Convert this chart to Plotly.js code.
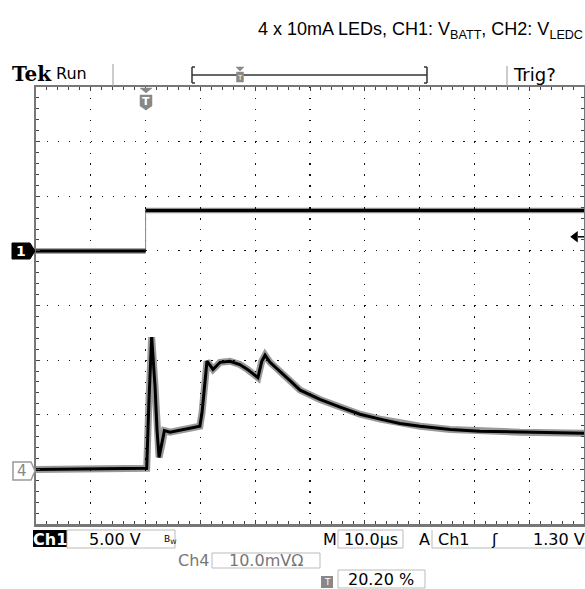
<!DOCTYPE html>
<html><head><meta charset="utf-8">
<script src="https://cdn.plot.ly/plotly-3.0.1.min.js"></script>
<style>body{margin:0;background:#fff}#chart{width:585px;height:589px}</style>
</head><body><div id="chart"></div>
<script>
// ---- data ----
const ch1Time  = [-20, 0, 0, 80];            // µs
const ch1Volts = [0, 0, 3.7, 3.7];           // V
const ch4Time  = [-20, 0.2, 0.62, 1.11, 1.72, 2.08, 2.45, 2.99, 3.43, 4.45, 7.2, 9.9, 10.3, 10.7, 11.2, 12.3, 13.6, 15.4, 17.2, 18.6, 20.5, 21.2, 21.8, 22.7, 24.5, 26.4, 28.2, 31.8, 35.5, 39.1, 42.8, 46.4, 50.1, 55.6, 61.0, 68.3, 80];
const ch4mV    = [0, 0.2, 12.8, 24.2, 15.2, 7.3, 2.2, 4.6, 7.1, 6.8, 7.3, 7.9, 10.4, 15.3, 19.8, 18.3, 19.6, 19.8, 19.2, 18.3, 16.8, 19.8, 20.9, 19.6, 18.0, 16.2, 14.5, 12.8, 11.4, 10.1, 9.2, 8.4, 7.9, 7.3, 7.0, 6.8, 6.6];
const ch1VoltsPerDiv = 5.0;
const ch4mVPerDiv = 10.0;
const ch1OffsetDiv = 1;
const ch4OffsetDiv = -3;
const trigLevelV = 1.30;
const timeRange = [-20, 80];
const timePerDiv = 10;

// ---- helpers ----
const L = 36, W = 548, B = 524, H = 437;
const px = x => (x - L) / W;
const py = y => (B - y) / H;
const ch1Y = ch1Volts.map(v => ch1OffsetDiv + v / ch1VoltsPerDiv);
const ch4Y = ch4mV.map(v => ch4OffsetDiv + v / ch4mVPerDiv);
// horizontal levels of ch1 only (break at the step)
const ch1LevX = [], ch1LevY = [];
for (let i = 0; i < ch1Time.length; i++) {
  if (i > 0 && ch1Time[i] === ch1Time[i - 1]) { ch1LevX.push(null); ch1LevY.push(null); }
  ch1LevX.push(ch1Time[i]); ch1LevY.push(ch1Y[i]);
}

const traces = [
  {x: ch1Time, y: ch1Y, mode: 'lines', line: {color: '#888', width: 1}, hoverinfo: 'skip'},
  {x: ch1LevX, y: ch1LevY, mode: 'lines', line: {color: 'rgba(0,0,0,0.45)', width: 5.5}, connectgaps: false},
  {x: ch1LevX, y: ch1LevY, mode: 'lines', line: {color: '#000', width: 3}, connectgaps: false},
  {x: ch4Time, y: ch4Y, mode: 'lines', line: {color: 'rgba(0,0,0,0.4)', width: 7}},
  {x: ch4Time, y: ch4Y, mode: 'lines', line: {color: '#000', width: 3}},
  {x: [78.4], y: [ch1OffsetDiv + trigLevelV / ch1VoltsPerDiv], mode: 'markers',
   marker: {symbol: 'triangle-left', size: 10, color: '#000'}}
];

const F = 'DejaVu Sans';
function txt(x, y, text, size, opts) {
  return Object.assign({xref: 'paper', yref: 'paper', x: px(x), y: py(y), text: text, showarrow: false,
    xanchor: 'center', yanchor: 'middle', font: {family: F, size: size, color: '#000'}}, opts || {});
}
function line(x0, y0, x1, y1, color, width) {
  return {type: 'line', xref: 'paper', yref: 'paper', x0: px(x0), y0: py(y0), x1: px(x1), y1: py(y1),
    line: {color: color, width: width}};
}
function rect(x0, y0, x1, y1, fill, lc, lw) {
  return {type: 'rect', xref: 'paper', yref: 'paper', x0: px(x0), y0: py(y0), x1: px(x1), y1: py(y1),
    fillcolor: fill, line: {color: lc, width: lw}};
}
function path(pts, fill, lc, lw) {
  const d = pts.map((p, i) => (i ? 'L' : 'M') + px(p[0]) + ',' + py(p[1])).join(' ') + ' Z';
  return {type: 'path', xref: 'paper', yref: 'paper', path: d, fillcolor: fill, line: {color: lc, width: lw}};
}

const shapes = [
  // header
  line(113, 64, 113, 86, '#999', 1),
  line(507, 66, 507, 86, '#999', 1),
  line(192, 75, 427, 75, '#333', 1.5),
  line(192, 67, 192, 83, '#333', 1.5), line(192, 67, 195, 67, '#333', 1.5), line(192, 83, 195, 83, '#333', 1.5),
  line(427, 67, 427, 83, '#333', 1.5), line(427, 67, 424, 67, '#333', 1.5), line(427, 83, 424, 83, '#333', 1.5),
  path([[236, 67], [244, 67], [240, 71]], '#888', '#888', 0.5),
  rect(236.5, 72, 243.5, 82, '#888', '#888', 0.5),
  // trigger position marker in plot
  path([[140, 88], [152, 88], [146, 93]], '#888', '#888', 0.5),
  path([[140, 95], [152, 95], [152, 106], [146, 110], [140, 106]], '#888', '#888', 0.5),
  // channel markers
  path([[12, 243], [30, 243], [35, 251], [30, 259], [12, 259]], '#000', '#000', 1),
  path([[13, 462], [31, 462], [35, 471], [31, 480], [13, 480]], '#fff', '#999', 1.5),
  line(578, 236.8, 584, 236.8, '#000', 1.5),
  // bottom readouts
  rect(33, 530, 67, 547, '#000', '#000', 0),
  rect(67, 530, 175, 548, 'rgba(0,0,0,0)', '#bbb', 1),
  rect(338, 530, 403, 548, 'rgba(0,0,0,0)', '#bbb', 1),
  line(432, 530, 432, 548, '#bbb', 1), line(432, 548, 585, 548, '#bbb', 1),
  rect(212, 553, 320, 568, 'rgba(0,0,0,0)', '#bbb', 1),
  rect(321, 576, 333, 588, '#888', '#888', 0),
  rect(338, 570, 425, 588, 'rgba(0,0,0,0)', '#bbb', 1)
];

const annotations = [
  txt(420, 30, '4 x 10mA LEDs, CH1: V<sub>BATT</sub>, CH2: V<sub>LEDC</sub>', 18, {font: {family: 'Liberation Sans', size: 18, color: '#000'}}),
  txt(10, 74, '<b>Tek</b>', 20, {xanchor: 'left', font: {family: 'DejaVu Serif', size: 20, color: '#000'}}),
  txt(54, 73, 'Run', 16, {xanchor: 'left'}),
  txt(511, 74, 'Trig?', 18, {xanchor: 'left'}),
  txt(240, 78, 'T', 7, {font: {family: F, size: 7, color: '#fff'}}),
  txt(146, 101, '<b>T</b>', 11, {font: {family: F, size: 11, color: '#fff'}}),
  txt(21, 251, '<b>1</b>', 14, {font: {family: F, size: 14, color: '#fff'}}),
  txt(22, 471, '4', 15, {font: {family: F, size: 15, color: '#888'}}),
  txt(50, 539, '<b>Ch1</b>', 16, {font: {family: F, size: 16, color: '#fff'}}),
  txt(115, 539, '5.00 V', 16),
  txt(170, 539, 'B<sub>W</sub>', 9),
  txt(330, 539, 'M', 16),
  txt(371, 539, '10.0µs', 16),
  txt(424, 539, 'A', 16),
  txt(454, 539, 'Ch1', 16),
  txt(494, 539, 'ʃ', 16),
  txt(559, 539, '1.30 V', 16),
  txt(194, 560, 'Ch4', 16, {font: {family: F, size: 16, color: '#777'}}),
  txt(266, 560, '10.0mVΩ', 16, {font: {family: F, size: 16, color: '#777'}}),
  txt(327, 582, 'T', 9, {font: {family: F, size: 9, color: '#fff'}}),
  txt(381, 579, '20.20 %', 16)
];

const axisCommon = {
  showline: true, linecolor: '#777', linewidth: 2.5, mirror: 'ticks',
  ticks: 'inside', ticklen: 4, tickcolor: '#444', tickwidth: 1,
  showticklabels: false, zeroline: false, fixedrange: true,
  showgrid: true, gridcolor: '#111', gridwidth: 1.2
};

const layout = {
  width: 585, height: 589,
  margin: {l: 36, r: 1, t: 87, b: 65, autoexpand: false},
  paper_bgcolor: '#fff', plot_bgcolor: '#fff',
  showlegend: false,
  xaxis: Object.assign({}, axisCommon, {range: timeRange, tick0: 0, dtick: timePerDiv,
    griddash: '1.4px,9.525px',
    minor: {dtick: timePerDiv / 5, ticks: 'inside', ticklen: 3, tickcolor: '#444', showgrid: false}}),
  yaxis: Object.assign({}, axisCommon, {range: [-4, 4], tick0: 0, dtick: 1,
    griddash: '1.4px,9.56px',
    minor: {dtick: 0.2, ticks: 'inside', ticklen: 3, tickcolor: '#444', showgrid: false}}),
  shapes: shapes,
  annotations: annotations
};

Plotly.newPlot('chart', traces, layout, {displayModeBar: false, staticPlot: true});
</script>
</body></html>
